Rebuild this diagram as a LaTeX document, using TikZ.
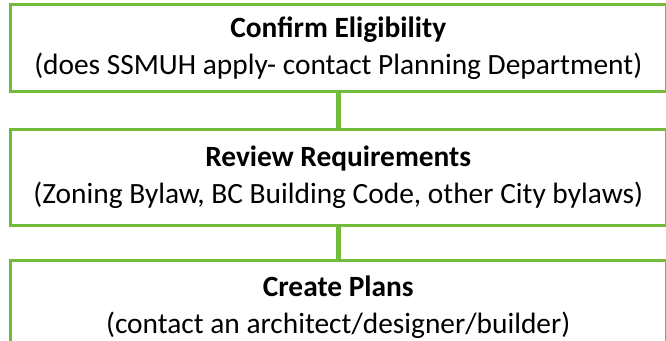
\documentclass[tikz,border=0pt]{standalone}
\usepackage{fontspec}
\setmainfont{Carlito}
\usepackage{tikz}
\usetikzlibrary{positioning}
\definecolor{stepgreen}{RGB}{112,188,58}
\tikzset{
  stagebox/.style={draw=stepgreen, line width=3pt, fill=white, minimum width=655.5pt, align=center, inner sep=0pt, font=\fontsize{29.4}{37}\selectfont},
  link/.style={draw=stepgreen, line width=5.5pt}
}

\begin{document}
\begin{tikzpicture}[x=1pt,y=1pt]
  \useasboundingbox (0,0) rectangle (666,-340);
  \node[stagebox, minimum height=87pt] (confirm) at (338.25,-48) {\textbf{Confirm Eligibility}\\(does SSMUH apply- contact Planning Department)};
  \node[stagebox, minimum height=96pt] (review) at (338.25,-177) {\textbf{Review Requirements}\\(Zoning Bylaw, BC Building Code, other City bylaws)};
  \node[stagebox, minimum height=95pt] (plans) at (338.25,-307.5) {\textbf{Create Plans}\\(contact an architect/designer/builder)};
  \draw[link] (confirm) -- (review);
  \draw[link] (review) -- (plans);
\end{tikzpicture}
\end{document}
